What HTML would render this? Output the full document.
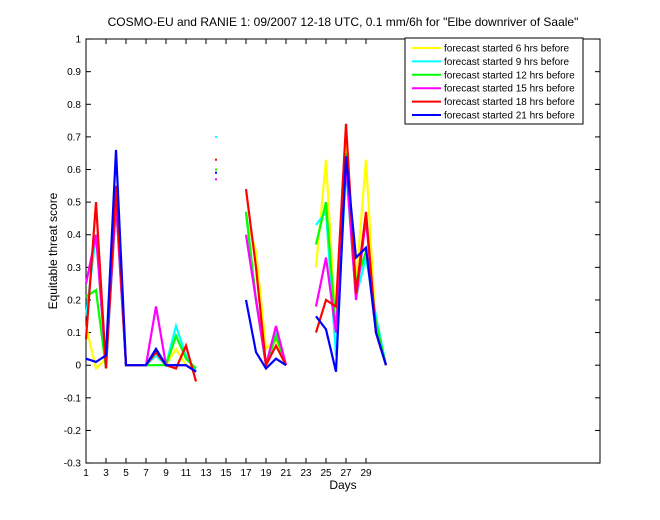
<!DOCTYPE html>
<html><head><meta charset="utf-8"><style>
html,body{margin:0;padding:0;background:#fff;}
svg{display:block;font-family:"Liberation Sans",sans-serif;}
</style></head><body>
<svg id="s" width="660" height="520" viewBox="0 0 660 520" xmlns="http://www.w3.org/2000/svg">
<rect x="0" y="0" width="660" height="520" fill="#fff"/>
<rect x="86" y="39" width="514" height="424" fill="#fff" stroke="#000" stroke-width="1"/>
<g id="ticks" stroke="#000" stroke-width="1"></g>
<g id="labels" font-size="10" fill="#000"></g>
<g id="data" fill="none" stroke-width="2.2" stroke-linejoin="miter"></g>
<text x="343" y="26" font-size="12" text-anchor="middle">COSMO-EU and RANIE 1: 09/2007 12-18 UTC, 0.1 mm/6h for "Elbe downriver of Saale"</text>
<text x="343" y="489" font-size="12" text-anchor="middle">Days</text>
<text transform="translate(57,251) rotate(-90)" font-size="12" text-anchor="middle">Equitable threat score</text>
<rect x="405" y="38" width="178" height="86" fill="#fff" stroke="#000" stroke-width="1"/>
<g id="leg" font-size="10"></g>
</svg>
<script>
const X=d=>86+10*(d-1), Y=v=>365.2-v*326.15;
const tk=document.getElementById('ticks'), lb=document.getElementById('labels');
let h='',l='';
for(let i=0;i<=13;i++){const v=-0.3+i*0.1, y=Y(v);
 h+=`<line x1="86" y1="${y}" x2="91" y2="${y}"/><line x1="600" y1="${y}" x2="595" y2="${y}"/>`;
 let t=(Math.round(v*10)/10).toString(); l+=`<text x="81" y="${y+3.5}" text-anchor="end">${t}</text>`;}
for(let d=1;d<=29;d+=2){const x=X(d);
 h+=`<line x1="${x}" y1="463" x2="${x}" y2="458"/><line x1="${x}" y1="39" x2="${x}" y2="44"/>`;
 l+=`<text x="${x}" y="476" text-anchor="middle">${d}</text>`;}
tk.innerHTML=h; lb.innerHTML=l;
const cols=['#ffff00','#00ffff','#00ff00','#ff00ff','#ff0000','#0000ff'];
const S=[
 [[.12,-.01,.02,.5,0,0,0,.03,0,.05,0,-.01],[.45,.35,.05,.08,0],[.3,.63,.1,.68,.25,.63,.1,0]],
 [[.15,.4,0,.5,0,0,0,.03,0,.12,.03,-.02],[.47,.2,0,.1,0],[.43,.47,.03,.6,.21,.33,.15,0]],
 [[.21,.23,-.01,.5,0,0,0,0,0,.09,.02,-.01],[.47,.2,0,.09,0],[.37,.5,.1,.65,.25,.35,.13,0]],
 [[.25,.4,0,.5,0,0,0,.18,0,0,0,-.02],[.4,.2,0,.12,0],[.18,.33,.1,.62,.2,.45,.1,0]],
 [[.08,.5,-.01,.55,0,0,0,.04,0,-.01,.06,-.05],[.54,.3,0,.06,0],[.1,.2,.18,.74,.22,.47,.1,0]],
 [[.02,.01,.03,.66,0,0,0,.05,0,0,0,-.02],[.2,.04,-.01,.02,0],[.15,.11,-.02,.64,.33,.36,.1,0]]];
const starts=[1,17,24], dots=[null,.7,.6,.57,.63,.59];
let g='';
S.forEach((s,i)=>{s.forEach((seg,j)=>{g+=`<polyline stroke="${cols[i]}" points="${seg.map((v,k)=>X(starts[j]+k)+','+Y(v)).join(' ')}"/>`;});
 if(dots[i]!==null) g+=`<rect x="${X(14)-1}" y="${Y(dots[i])-1}" width="2" height="2" fill="${cols[i]}" stroke="none"/>`;});
document.getElementById('data').innerHTML=g;
const names=[6,9,12,15,18,21]; let lg='';
names.forEach((n,i)=>{const y=48+i*13.4;
 lg+=`<line x1="412" y1="${y}" x2="441" y2="${y}" stroke="${cols[i]}" stroke-width="2"/><text x="444" y="${y+3.5}">forecast started ${n} hrs before</text>`;});
document.getElementById('leg').innerHTML=lg;
</script>
</body></html>
